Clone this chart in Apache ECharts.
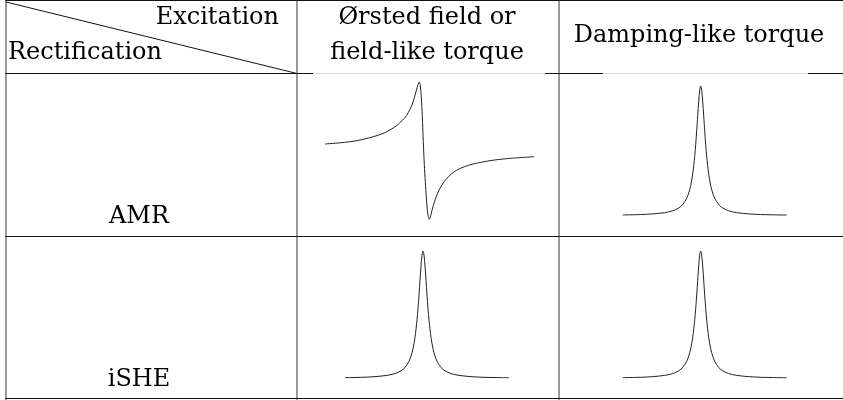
<!DOCTYPE html>
<html>
<head>
<meta charset="utf-8">
<script src="https://cdn.jsdelivr.net/npm/echarts@6/dist/echarts.min.js"></script>
<style>
  html, body { margin: 0; padding: 0; background: #fff; }
  #char { width: 843px; height: 400px; }
</style>
</head>
<body>
<div id="char"></div>
<script>
// table labels
let cornerTop = 'Excitation'
let cornerBottom = 'Rectification'
let excitationLabels = [['Ørsted field or', 'field-like torque'], ['Damping-like torque']]
let rectificationLabels = ['AMR', 'iSHE']

let dispField = [-49.6, -40, -33.8, -25.5, -20, -17.2, -14, -12.2, -10, -8.8, -7.2, -6, -5, -4, -3.2, -2.5, -2, -1.5, -1, -0.5, 0, 0.5, 1, 1.5, 2, 2.5, 3, 3.5, 4.5, 5.5, 6.5, 8, 9.5, 11.2, 13.5, 16.2, 20, 24.5, 32.85, 41.2, 55]
let dispSignal = [0.097, 0.12, 0.145, 0.203, 0.258, 0.301, 0.36, 0.407, 0.47, 0.515, 0.6, 0.68, 0.77, 0.875, 0.955, 1.0, 0.95, 0.78, 0.5, 0.13, -0.2, -0.45, -0.68, -0.86, -0.96, -1.0, -0.97, -0.91, -0.8, -0.71, -0.63, -0.54, -0.47, -0.405, -0.34, -0.285, -0.235, -0.194, -0.146, -0.117, -0.088]

// symmetric (Lorentzian) lineshape, same in the three other cells
let lorentzField = [-39, -30, -24, -18, -14, -11, -9, -7, -6, -5, -4, -3, -2.5, -2, -1.5, -1, -0.5, 0, 0.5, 1, 1.5, 2, 2.5, 3, 4, 5, 6, 7, 9, 11, 14, 18, 24, 30, 36, 43]
let lorentzSignal = [0.005, 0.008, 0.013, 0.023, 0.037, 0.059, 0.085, 0.134, 0.174, 0.232, 0.321, 0.457, 0.548, 0.654, 0.771, 0.883, 0.968, 1, 0.968, 0.883, 0.771, 0.654, 0.548, 0.457, 0.321, 0.232, 0.174, 0.134, 0.085, 0.059, 0.037, 0.023, 0.013, 0.008, 0.006, 0.004]

function pairs(xs, ys) {
  return xs.map((x, i) => [x, ys[i]])
}

let myChart = echarts.init(document.getElementById('char'))

let font = 'DejaVu Serif'
let lineColor = '#111'

// cells: [left, top, width, height, xmin, xmax, ymin, ymax]
let cells = [
  [324.3, 82, 212, 137.3, -50, 56, -1, 1],
  [620.7, 86, 168, 129.6, -40, 44, 0, 1],
  [343, 251, 168, 127.3, -40, 44, 0, 1],
  [620.7, 251, 168, 127.3, -40, 44, 0, 1]
]
let curves = [
  pairs(dispField, dispSignal),
  pairs(lorentzField, lorentzSignal),
  pairs(lorentzField, lorentzSignal),
  pairs(lorentzField, lorentzSignal)
]

function hline(x1, x2, y, color) {
  return { type: 'line', shape: { x1: x1, y1: y, x2: x2, y2: y }, style: { stroke: color || lineColor, lineWidth: 1 }, silent: true }
}
function vline(x, y1, y2) {
  return { type: 'line', shape: { x1: x, y1: y1, x2: x, y2: y2 }, style: { stroke: '#333', lineWidth: 1 }, silent: true }
}
function label(text, x, y, align) {
  return {
    type: 'text', x: x, y: y, silent: true,
    style: { text: text, fill: '#000', font: '24px "' + font + '"', align: align || 'center', verticalAlign: 'middle' }
  }
}

let graphic = [
  // outer and cell rules
  hline(5, 843, 0.5),
  hline(5, 843, 73.5, '#ddd'),
  hline(5, 313, 73.5),
  hline(545, 603, 73.5),
  hline(808, 843, 73.5),
  hline(5, 843, 236.5),
  hline(5, 843, 398.5),
  vline(6, 0, 400),
  vline(297, 0, 400),
  vline(559, 0, 400),
  { type: 'line', shape: { x1: 6, y1: 2, x2: 297, y2: 73.5 }, style: { stroke: lineColor, lineWidth: 1 }, silent: true },
  // header texts
  label(cornerTop, 279, 18, 'right'),
  label(cornerBottom, 8, 53, 'left'),
  label(excitationLabels[0][0], 427, 18),
  label(excitationLabels[0][1], 427, 53),
  label(excitationLabels[1][0], 699, 36),
  label(rectificationLabels[0], 139, 217),
  label(rectificationLabels[1], 139, 380)
]

let option = {
  animation: false,
  grid: cells.map(c => ({ left: c[0], top: c[1], width: c[2], height: c[3] })),
  xAxis: cells.map((c, i) => ({ type: 'value', gridIndex: i, min: c[4], max: c[5], show: false })),
  yAxis: cells.map((c, i) => ({ type: 'value', gridIndex: i, min: c[6], max: c[7], show: false })),
  series: curves.map((d, i) => ({
    type: 'line',
    xAxisIndex: i,
    yAxisIndex: i,
    data: d,
    smooth: 0.3,
    showSymbol: false,
    lineStyle: { color: '#222', width: 1 }
  })),
  graphic: graphic
}
myChart.setOption(option)
</script>
</body>
</html>
